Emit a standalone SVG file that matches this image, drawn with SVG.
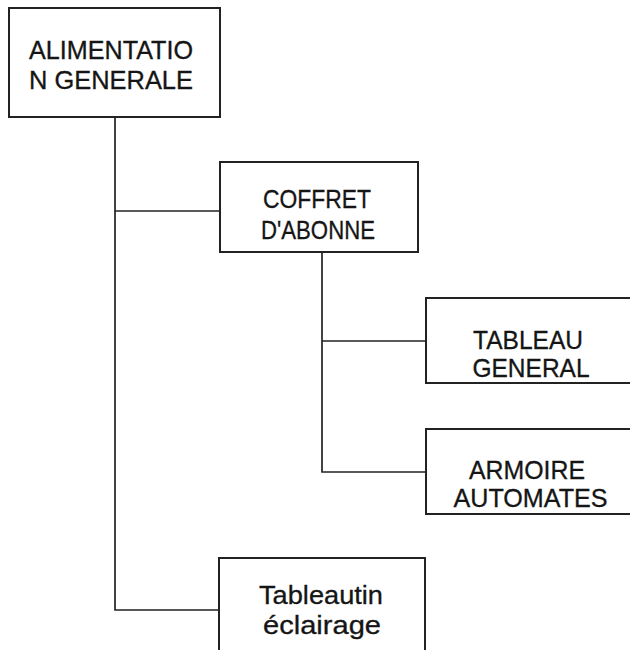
<svg xmlns="http://www.w3.org/2000/svg" width="630" height="650" viewBox="0 0 630 650">
<style>
.box{fill:#fff;stroke:#222;stroke-width:2}
.ln{fill:none;stroke:#222;stroke-width:1.7}
text{font-family:"Liberation Sans",Arial,sans-serif;font-size:25px;fill:#151515;stroke:#151515;stroke-width:0.3;text-anchor:middle}
</style>
<rect width="630" height="650" fill="#fff"/>
<g id="connectors">
<path class="ln" d="M115 117 V610 H219"/>
<path class="ln" d="M115 211 H221"/>
<path class="ln" d="M322 252 V472 H427"/>
<path class="ln" d="M322 341 H427"/>
</g>
<g id="alimentation">
<rect class="box" x="9" y="8" width="211" height="109"/>
<text x="111" y="59" textLength="164" lengthAdjust="spacingAndGlyphs">ALIMENTATIO</text>
<text x="111" y="89" textLength="164" lengthAdjust="spacingAndGlyphs">N GENERALE</text>
</g>
<g id="coffret">
<rect class="box" x="220" y="162" width="198" height="90"/>
<text x="317" y="208" textLength="108" lengthAdjust="spacingAndGlyphs">COFFRET</text>
<text x="318" y="239" textLength="114" lengthAdjust="spacingAndGlyphs">D'ABONNE</text>
</g>
<g id="tableau">
<rect class="box" x="426" y="298" width="210" height="85"/>
<text x="528" y="349" textLength="110" lengthAdjust="spacingAndGlyphs">TABLEAU</text>
<text x="531" y="377" textLength="117" lengthAdjust="spacingAndGlyphs">GENERAL</text>
</g>
<g id="armoire">
<rect class="box" x="426" y="429" width="210" height="85"/>
<text x="527" y="479" textLength="116" lengthAdjust="spacingAndGlyphs">ARMOIRE</text>
<text x="530.5" y="507" textLength="154" lengthAdjust="spacingAndGlyphs">AUTOMATES</text>
</g>
<g id="tableautin">
<rect class="box" x="219" y="558" width="206" height="100"/>
<text x="321" y="604" textLength="124" lengthAdjust="spacingAndGlyphs">Tableautin</text>
<text x="322" y="634" textLength="118" lengthAdjust="spacingAndGlyphs">éclairage</text>
</g>
</svg>
